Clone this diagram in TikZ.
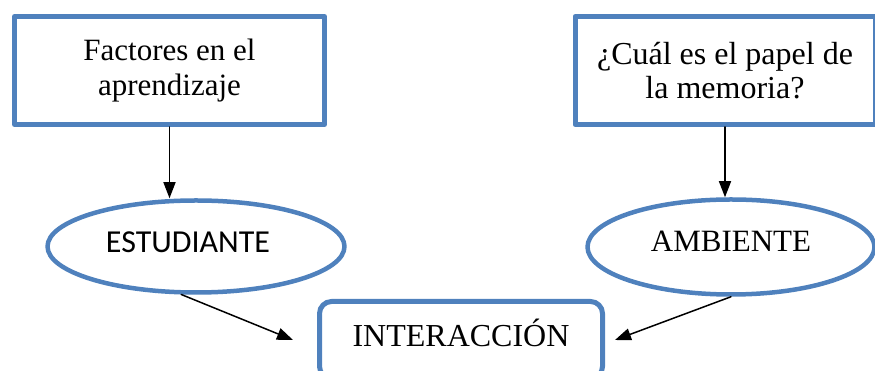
\documentclass[tikz,border=0pt]{standalone}
\usepackage{fontspec}
\setmainfont{Liberation Serif}
\newfontfamily\calibrifont{Carlito}
\usetikzlibrary{positioning, shapes.geometric, arrows.meta}
\definecolor{wordblue}{RGB}{79,129,189}

\begin{document}
\begin{tikzpicture}[x=1pt, y=1pt, line cap=round, line join=round,
    titlebox/.style={draw=wordblue, line width=5pt, minimum width=310pt, minimum height=108pt,
      align=center, font=\fontsize{31}{35}\selectfont},
    oval/.style={ellipse, draw=wordblue, line width=4.5pt, inner sep=0pt,
      font=\fontsize{31}{36}\selectfont},
    link/.style={-{Triangle[length=16pt, width=12pt]}, line width=1.5pt, black}]
    % page frame
    \useasboundingbox (0,0) rectangle (875,371);
    % question boxes
    \node[titlebox] (factores) at (169.5,300.5) {Factores en el\\aprendizaje};
    \node[titlebox, minimum width=300pt, font=\fontsize{32}{34}\selectfont, text depth=0pt]
      (memoria) at (725,300.5) {¿Cuál es el papel de\\la memoria?};
    % ovals
    \node[oval, minimum width=297pt, minimum height=92pt, text depth=9pt,
      font=\calibrifont\fontsize{32}{36}\selectfont] (estudiante) at (196,124.5) {ESTUDIANTE\hspace*{16pt}};
    \node[oval, minimum width=287pt, minimum height=95pt, text depth=12pt] (ambiente) at (731,124) {AMBIENTE};
    % result box
    \node[draw=wordblue, line width=5pt, rounded corners=12pt, minimum width=283pt, minimum height=77pt,
      text depth=14pt, font=\fontsize{32}{36}\selectfont] (interaccion) at (461,31) {INTERACCIÓN};
    % arrows
    \draw[link] (factores.south) -- (factores.south |- estudiante.north);
    \draw[link] (memoria.south) -- (memoria.south |- ambiente.north);
    \draw[link] (estudiante.253) -- ([xshift=-24pt]interaccion.west);
    \draw[link] (ambiente.south) -- ([xshift=10pt]interaccion.east);
\end{tikzpicture}
\end{document}
